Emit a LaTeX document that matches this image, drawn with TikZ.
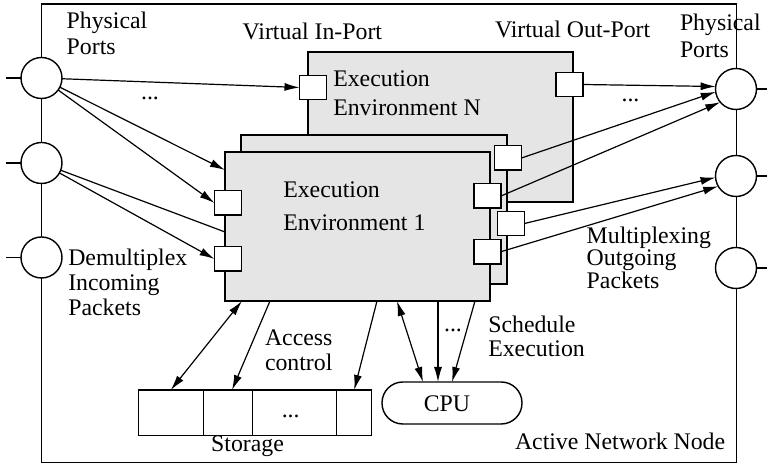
\documentclass[tikz,border=0pt]{standalone}
\usepackage{fontspec}
\setmainfont{Liberation Serif}
\usetikzlibrary{arrows.meta,fit,calc}

% stacked left-aligned lines; the box baseline is that of the first line
\newcommand\lblstack[2]{\vtop{\baselineskip=#1\relax\halign{##\hfil\cr#2\crcr}}}

\begin{document}
\begin{tikzpicture}[x=0.5pt,y=-0.5pt,
  every node/.style={inner sep=0pt, outer sep=0pt},
  lbl/.style={anchor=base west, font=\fontsize{11.9pt}{14pt}\selectfont},
  dots/.style={anchor=base, font=\fontsize{11.9pt}{14pt}\selectfont},
  envbox/.style={draw, fill=black!10, line width=0.7pt},
  port/.style={draw, fill=white, line width=0.7pt, minimum width=13.5pt, minimum height=12.2pt},
  phys/.style={draw, circle, fill=white, line width=0.7pt, minimum size=20.5pt},
  cell/.style={draw, line width=0.7pt},
  plain/.style={line width=0.6pt},
  flow/.style={line width=0.6pt, -{Latex[length=7.5pt,width=4pt]}},
  both/.style={line width=0.6pt, {Latex[length=7.5pt,width=4pt]}-{Latex[length=7.5pt,width=4pt]}}]

\useasboundingbox (0,0) rectangle (767,464);

% node frame
\draw[line width=0.7pt] (41.5,4) rectangle (736.5,462.5);

% physical ports on both sides
\node[phys] (pl1) at (41.5,78) {};
\node[phys] (pl2) at (41.5,163) {};
\node[phys] (pl3) at (41.5,257.5) {};
\node[phys] (pr1) at (736,89) {};
\node[phys] (pr2) at (736,176) {};
\node[phys] (pr3) at (736,268) {};
\foreach \p in {pl1,pl2,pl3} \draw[plain] (\p.west) -- ++(-15,0);
\foreach \p in {pr1,pr2,pr3} \draw[plain] (\p.east) -- ++(12,0);

% execution environment N (back)
\node[envbox, fit={(308,52) (573,202)}] (eeN) {};
\node[port] (piN) at (313,87.5) {};
\node[port] (poN) at (569.5,84.5) {};

% intermediate execution environment
\node[envbox, fit={(241,135) (507,284)}] (eeM) {};
\node[port] (pmA) at (508,158) {};
\node[port] (pmC) at (511,223.5) {};

% execution environment 1 (front)
\node[envbox, fit={(225,152) (490,301)}] (ee1) {};
\node[port] (pif1) at (228,203) {};
\node[port] (pif2) at (228,259) {};
\node[port] (pofB) at (487.5,196) {};
\node[port] (pofD) at (487.5,251.7) {};
\coordinate (ee1in) at (225,170);
\coordinate (ee1mid) at (225,232);

% storage cells
\node[cell, fit={(138.3,390) (203.3,435.7)}] (st1) {};
\node[cell, fit={(203.3,390) (252.7,435.7)}] (st2) {};
\node[cell, fit={(252.7,390) (336.7,435.7)}] (st3) {};
\node[cell, fit={(336.7,390) (371.7,435.7)}] (st4) {};

% CPU
\node[draw, line width=0.7pt, rounded corners=10.4pt, fit={(382,382) (522,424)}] (cpu) {};

% labels
\node[lbl] (physL) at (66.7,28.3) {\lblstack{13pt}{Physical\cr Ports}};
\node[lbl] (physR) at (680,31) {\lblstack{13.5pt}{Physical\cr Ports}};
\node[lbl] (vin) at (242.7,40) {Virtual In-Port};
\node[lbl] (vout) at (495,37.3) {Virtual Out-Port};
\node[lbl] (eeNtext) at (333.3,86.5) {\lblstack{14.5pt}{Execution\cr Environment N}};
\node[lbl] (ee1text) at (283.3,197.3) {\lblstack{16.4pt}{Execution\cr Environment 1}};
\node[lbl] (demux) at (68.3,266) {\lblstack{12.3pt}{Demultiplex\cr Incoming\cr Packets}};
\node[lbl] (access) at (265,345.7) {\lblstack{12.2pt}{Access\cr control}};
\node[lbl] (sched) at (488.3,333) {\lblstack{11.9pt}{Schedule\cr Execution}};
\node[lbl] (mux) at (586.7,243.3) {\lblstack{11.3pt}{Multiplexing\cr Outgoing\cr Packets}};
\node[lbl] (active) at (515,450) {Active Network Node};
\node[dots] (storage) at (247.5,451.7) {Storage};
\node[dots] (cputext) at (447,412) {CPU};
\node[dots] (dotsL) at (150,100) {...};
\node[dots] (dotsR) at (630.5,102) {...};
\node[dots] (dotsB) at (453,331.7) {...};
\node[dots] (dotsS) at (290.7,418) {...};

% demultiplexing of incoming packets
\draw[flow] (pl1) -- (piN.west);
\draw[flow] (pl1) -- (ee1in);
\draw[flow] (pl1) -- (pif1.west);
\draw[plain] (pl2) -- (ee1mid);
\draw[flow] (pl2) -- (pif2.west);

% multiplexing of outgoing packets
\draw[flow] (poN.east) -- (pr1.173);
\draw[flow] (pmA.east) -- (pr1.188);
\draw[flow] (pofB.east) -- (pr1.220);
\draw[flow] (pmC.east) -- (pr2.184);
\draw[flow] (pofD.east) -- (pr2.210);

% storage access and CPU scheduling
\draw[both] ($(ee1.south west)+(17,0)$) -- (st1.north);
\draw[flow] ($(ee1.south west)+(45,0)$) -- ($(st2.north)+(4,0)$);
\draw[flow] ($(ee1.south west)+(152,0)$) -- (st4.north);
\draw[both] ($(ee1.south west)+(172,0)$) -- ($(cpu.north)+(-29,0)$);
\draw[flow] ($(ee1.south west)+(213,0)$) -- ($(cpu.north)+(-14,0)$);
\draw[flow] ($(ee1.south west)+(250,0)$) -- (cpu.north);

\end{tikzpicture}
\end{document}
